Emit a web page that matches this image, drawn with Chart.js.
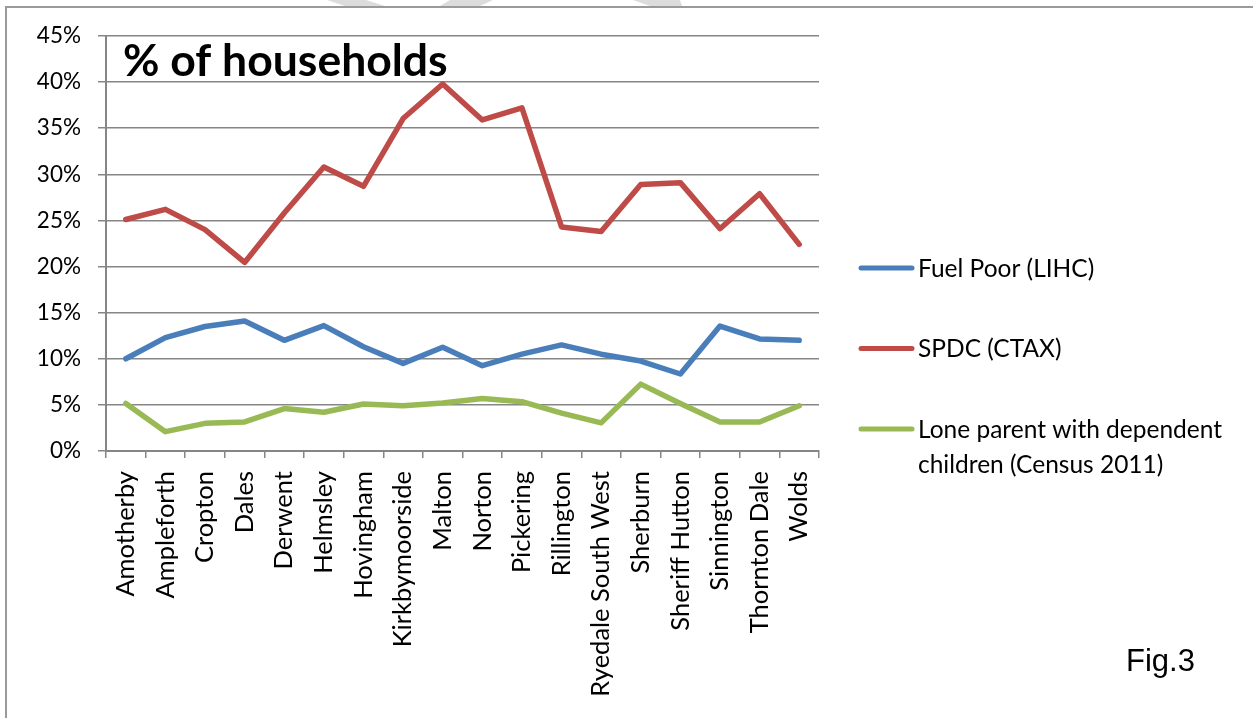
<!DOCTYPE html>
<html>
<head>
<meta charset="utf-8">
<script src="https://cdn.jsdelivr.net/npm/chart.js@4.4.1/dist/chart.umd.min.js"></script>
<style>
  html, body { margin: 0; padding: 0; background: #fff; }
</style>
</head>
<body>
<canvas id="myChart" width="1253" height="718"></canvas>
<script>
// ward names along the x axis
const wards = ['Amotherby', 'Ampleforth', 'Cropton', 'Dales', 'Derwent', 'Helmsley', 'Hovingham',
  'Kirkbymoorside', 'Malton', 'Norton', 'Pickering', 'Rillington', 'Ryedale South West',
  'Sherburn', 'Sheriff Hutton', 'Sinnington', 'Thornton Dale', 'Wolds'];

// % of households
const fuelPoor = [10.0, 12.3, 13.5, 14.1, 12.0, 13.6, 11.3, 9.5, 11.25, 9.25, 10.5, 11.5, 10.5, 9.75, 8.35, 13.55, 12.15, 12.0];
const spdc = [25.1, 26.2, 24.0, 20.45, 25.8, 30.8, 28.7, 36.05, 39.8, 35.9, 37.2, 24.3, 23.8, 28.9, 29.1, 24.1, 27.9, 22.4];
const loneParent = [5.15, 2.1, 3.0, 3.15, 4.6, 4.2, 5.1, 4.9, 5.2, 5.7, 5.35, 4.1, 3.05, 7.25, 5.15, 3.15, 3.15, 4.9];

const yTicks = [0, 5, 10, 15, 20, 25, 30, 35, 40, 45];

const chartTitle = '% of households';
const figLabel = 'Fig.3';

const gridColor = '#868686';
const font = 'Lato, "Open Sans", sans-serif';

// frame, watermark, title, legend and figure label
const extras = {
  id: 'extras',
  beforeDraw(chart) {
    const c = chart.ctx;
    c.save();
    c.fillStyle = '#dcdcdc';
    [[327, 366, 385, 345], [450, 493, 480, 440], [633, 680, 682, 650]].forEach(p => {
      c.beginPath();
      c.moveTo(p[0], 0); c.lineTo(p[1], 0); c.lineTo(p[2], 6); c.lineTo(p[3], 6);
      c.closePath(); c.fill();
    });
    c.strokeStyle = '#9a9a9a';
    c.lineWidth = 2;
    c.beginPath();
    c.moveTo(6, 718); c.lineTo(6, 7); c.lineTo(1253, 7);
    c.stroke();
    c.restore();
  },
  afterDraw(chart) {
    const c = chart.ctx;
    const area = chart.chartArea;
    c.save();
    c.fillStyle = '#000';
    c.textBaseline = 'alphabetic';
    c.font = 'bold 44.5px ' + font;
    c.fillText(chartTitle, area.left + 17, 76);

    // legend
    c.font = '24.5px ' + font;
    c.textBaseline = 'middle';
    chart.data.datasets.forEach((ds, i) => {
      const y = 268 + i * 80.5;
      c.strokeStyle = ds.borderColor;
      c.lineWidth = 5;
      c.lineCap = 'round';
      c.beginPath();
      c.moveTo(861, y); c.lineTo(912, y);
      c.stroke();
      // simple word wrap
      const words = ds.label.split(' ');
      let line = '', lines = [];
      words.forEach(w => {
        const t = line ? line + ' ' + w : w;
        if (c.measureText(t).width > 320 && line) { lines.push(line); line = w; } else line = t;
      });
      lines.push(line);
      lines.forEach((l, j) => c.fillText(l, 918, y + 1 + j * 35));
    });

    c.font = '31px "Liberation Sans", Arial, sans-serif';
    c.textBaseline = 'alphabetic';
    c.fillText(figLabel, 1126, 671);
    c.restore();
  }
};

const ctx = document.getElementById('myChart');

const myChart = new Chart(ctx, {
  type: 'line',
  data: {
    labels: wards,
    datasets: [
      { label: 'Fuel Poor (LIHC)', data: fuelPoor, borderColor: '#4a7ebb' },
      { label: 'SPDC (CTAX)', data: spdc, borderColor: '#be4b48' },
      { label: 'Lone parent with dependent children (Census 2011)', data: loneParent, borderColor: '#98b954' }
    ]
  },
  options: {
    responsive: false,
    animation: false,
    layout: { padding: { top: 36, right: 434, left: 0, bottom: 0 } },
    elements: {
      point: { radius: 0 },
      line: { borderWidth: 5.5, tension: 0, borderCapStyle: 'round', borderJoinStyle: 'round' }
    },
    plugins: { legend: { display: false }, tooltip: { enabled: false } },
    scales: {
      x: {
        offset: true,
        afterFit: s => { s.height = 267; },
        grid: { offset: true, drawOnChartArea: false, drawTicks: true, tickLength: 7, color: gridColor, lineWidth: 1.5 },
        border: { color: gridColor, width: 2 },
        ticks: { color: '#000', font: { family: font, size: 25.5 }, minRotation: 90, maxRotation: 90, autoSkip: false, padding: 13 }
      },
      y: {
        min: 0,
        max: 45,
        afterFit: s => { s.width = 106; },
        afterBuildTicks: s => { s.ticks = yTicks.map(v => ({ value: v })); },
        grid: { color: gridColor, lineWidth: 1.5, tickLength: 8 },
        border: { color: gridColor, width: 2 },
        ticks: { color: '#000', font: { family: font, size: 22.5 }, padding: 17, callback: v => v + '%' }
      }
    }
  },
  plugins: [extras]
});
</script>
</body>
</html>
